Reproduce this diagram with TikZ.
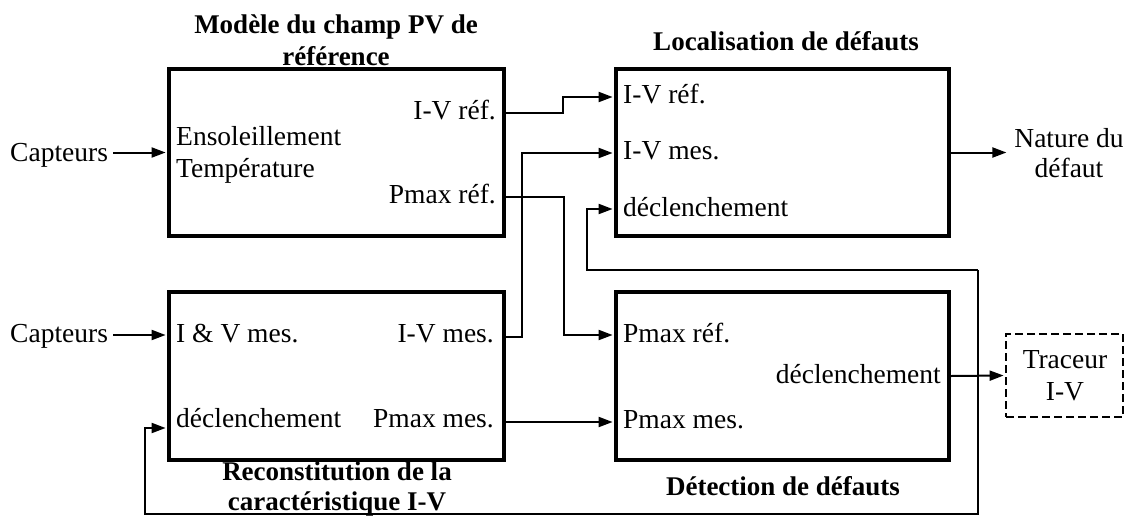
\documentclass[tikz,border=0pt]{standalone}
\usepackage{fontspec}
\setmainfont{Liberation Serif}
\usetikzlibrary{arrows.meta}
\begin{document}
\begin{tikzpicture}[x=1pt,y=-1pt,
 blk/.style={draw, line width=3.8pt, minimum width=335pt, minimum height=167pt, inner sep=0pt},
 con/.style={line width=2pt, -{Triangle[length=14pt,width=10pt]}, shorten >=1.5pt},
 lbl/.style={inner sep=0pt, font=\fontsize{27.5}{32}\selectfont},
 ttl/.style={inner sep=0pt, font=\fontsize{27}{32}\selectfont\bfseries},
 trbox/.style={draw, dash pattern=on 8pt off 4pt, line width=1.8pt, minimum width=117pt, minimum height=83pt, inner sep=0pt},
]
\useasboundingbox (0,0) rectangle (1128,515);
% blocks
\node[blk] (m) at (336.5,152.5) {};
\node[blk, minimum width=333pt] (loc) at (782.5,152.5) {};
\node[blk, minimum height=168pt] (rec) at (336.5,376) {};
\node[blk, minimum width=333pt, minimum height=168pt] (det) at (782.5,376) {};
\node[trbox] (tr) at (1064.5,375.5) {};
% titles
\node[ttl, anchor=base] (t1a) at (336,33) {Modèle du champ PV de};
\node[ttl, anchor=base] (t1b) at (336,65) {référence};
\node[ttl, anchor=base] (t2) at (786,50) {Localisation de défauts};
\node[ttl, anchor=base] (t3a) at (337,480) {Reconstitution de la};
\node[ttl, anchor=base] (t3b) at (337,510) {caractéristique I-V};
\node[ttl, anchor=base] (t4) at (783,495) {Détection de défauts};
% box 1 labels
\node[lbl, anchor=base east] (m1) at (496,119) {I-V réf.};
\node[lbl, anchor=base west] (m2) at (176,145) {Ensoleillement};
\node[lbl, anchor=base west] (m3) at (176,177) {Température};
\node[lbl, anchor=base east] (m4) at (496,203) {Pmax réf.};
% box 2 labels
\node[lbl, anchor=base west] (l1) at (623,103) {I-V réf.};
\node[lbl, anchor=base west] (l2) at (623,159) {I-V mes.};
\node[lbl, anchor=base west] (l3) at (623,216) {déclenchement};
% box 3 labels
\node[lbl, anchor=base west] (r1) at (176,342) {I \& V mes.};
\node[lbl, anchor=base east] (r2) at (494,342) {I-V mes.};
\node[lbl, anchor=base west] (r3) at (176,427) {déclenchement};
\node[lbl, anchor=base east] (r4) at (494,427) {Pmax mes.};
% box 4 labels
\node[lbl, anchor=base west] (d1) at (623,342) {Pmax réf.};
\node[lbl, anchor=base east] (d2) at (941,383) {déclenchement};
\node[lbl, anchor=base west] (d3) at (623,428) {Pmax mes.};
% outside labels
\node[lbl, anchor=base west] (c1) at (10,161) {Capteurs};
\node[lbl, anchor=base west] (c2) at (10,342) {Capteurs};
\node[lbl, anchor=base] (n1) at (1069,147) {Nature du};
\node[lbl, anchor=base] (n2) at (1069,177) {défaut};
\node[lbl, anchor=base] (tr1) at (1065,368) {Traceur};
\node[lbl, anchor=base] (tr2) at (1065,400) {I-V};
% connectors
\draw[con] (113,152.5) -- (m.west);
\draw[con] (113,335) -- (rec.west |- 0,335);
\draw[con] (m.east |- 0,113) -- ++(57,0) |- (loc.west |- 0,97);
\draw[con] (rec.east |- 0,337) -- ++(16,0) |- (loc.west |- 0,153);
\draw[con] (m.east |- 0,197) -- ++(58,0) |- (det.west |- 0,335);
\draw[con] (rec.east |- 0,422) -- (det.west |- 0,422);
\draw[con] (loc.east) -- ++(57,0);
\draw[con] (det.east) -- (tr.west);
\coordinate (fbtop) at (978,270);
\coordinate (fbbot) at (978,514);
\draw[con] (fbtop) -- (587,270) |- (loc.west |- 0,209);
\draw[con] (fbtop) -- (fbbot) -- (145,514) |- (rec.west |- 0,428);
\end{tikzpicture}
\end{document}
